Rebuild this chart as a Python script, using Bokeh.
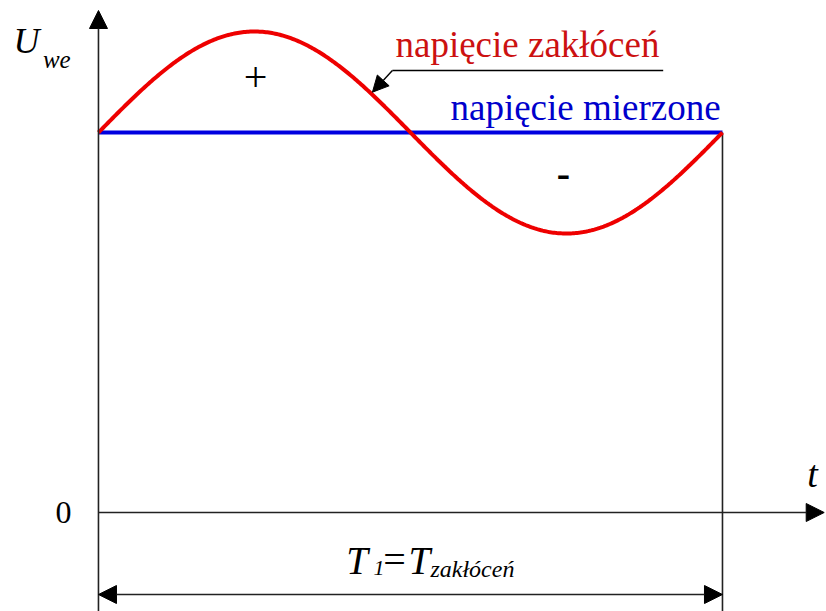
import numpy as np
from bokeh.plotting import figure
from bokeh.models import Range1d, Arrow, NormalHead, Label
from bokeh.embed import file_html
from bokeh.resources import INLINE

# Signal parameters (time in units of the disturbance period, voltage in arbitrary units)
T_period = 1.0          # period of the disturbance, T1 = T_zakłóceń
U_measured = 3.8        # measured DC voltage level
U_disturb_amp = 1.01    # amplitude of the sinusoidal disturbance

t_min, t_max = -0.157, 1.1667
u_min, u_max = -0.99, 5.12

t = np.linspace(0.0, T_period, 400)
u_total = U_measured + U_disturb_amp * np.sin(2 * np.pi * t / T_period)

p = figure(width=826, height=611, x_range=Range1d(t_min, t_max), y_range=Range1d(u_min, u_max),
           toolbar_location=None, output_backend="svg", min_border=0)
p.axis.visible = False
p.grid.visible = False
p.outline_line_color = None
p.background_fill_color = "white"
p.border_fill_color = "white"

SERIF = "Liberation Serif"
AXIS = "#222222"


def head(size=18):
    return NormalHead(size=size, fill_color="black", line_color="black")


# axes with arrow heads
p.add_layout(Arrow(end=head(), x_start=0, y_start=u_min, x_end=0, y_end=5.02,
                   line_color=AXIS, line_width=1.6))
p.add_layout(Arrow(end=head(), x_start=0, y_start=0, x_end=1.163, y_end=0,
                   line_color=AXIS, line_width=1.6))

# end of the period marker and the period dimension arrow
p.segment(x0=[T_period], y0=[U_measured], x1=[T_period], y1=[u_min], line_color=AXIS, line_width=1.6)
p.add_layout(Arrow(start=head(), end=head(), x_start=0, y_start=-0.82, x_end=T_period, y_end=-0.82,
                   line_color=AXIS, line_width=1.6))

# measured voltage and the disturbed voltage
p.line([0, T_period], [U_measured, U_measured], line_color="#0000e0", line_width=4)
p.line(t, u_total, line_color="#ee0000", line_width=4)

# leader line pointing at the disturbance curve
p.line([0.905, 0.471], [4.42, 4.42], line_color="black", line_width=1.4)
p.add_layout(Arrow(end=head(16), x_start=0.471, y_start=4.42, x_end=0.439, y_end=4.203,
                   line_color="black", line_width=1.4))


def label(x, y, text, size, color="black", style="normal", align="left"):
    p.add_layout(Label(x=x, y=y, text=text, text_font=SERIF, text_font_size=size,
                       text_color=color, text_font_style=style, text_align=align,
                       text_baseline="middle"))


label(0.476, 4.676, "napięcie zakłóceń", "37px", color="#cc1111")
label(0.997, 4.046, "napięcie mierzone", "37px", color="#0000cc", align="right")
label(0.2516, 4.36, "+", "42px", align="center")
label(0.745, 3.39, "-", "40px", style="bold", align="center")

label(-0.136, 4.72, "U", "36px", style="italic")
label(-0.089, 4.53, "we", "25px", style="italic")
label(1.136, 0.39, "t", "38px", style="italic")
label(-0.0561, 0.0, "0", "32px", align="center")

# period label T1 = T_zakłóceń
label(0.397, -0.48, "T", "39px", style="italic")
label(0.4407, -0.555, "1", "22px", style="italic")
label(0.4565, -0.47, "=", "40px")
label(0.497, -0.48, "T", "39px", style="italic")
label(0.532, -0.56, "zakłóceń", "24px", style="italic")

open("out.html", "w").write(file_html(p, INLINE))
